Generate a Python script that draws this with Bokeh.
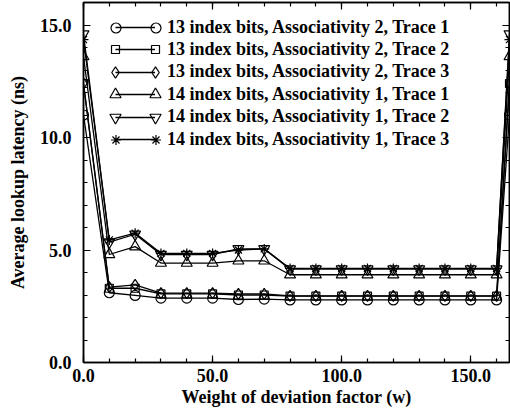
from bokeh.plotting import figure
from bokeh.models import (Range1d, LinearAxis, SingleIntervalTicker, PrintfTickFormatter,
                          Legend, LegendItem, CustomLabelingPolicy)
from bokeh.embed import file_html
from bokeh.resources import INLINE

# ---- data ----
weights = [0, 10, 20, 30, 40, 50, 60, 70, 80, 90, 100, 110, 120, 130, 140, 150, 160, 165]

idx13_assoc2_trace1 = [11.0, 3.10, 2.98, 2.86, 2.86, 2.86, 2.80, 2.82, 2.78, 2.78, 2.78, 2.78, 2.78, 2.78, 2.78, 2.78, 2.78, 11.0]
idx13_assoc2_trace2 = [12.4, 3.30, 3.30, 3.05, 3.05, 3.05, 3.00, 3.00, 2.95, 2.95, 2.95, 2.95, 2.95, 2.95, 2.95, 2.95, 2.95, 12.4]
idx13_assoc2_trace3 = [12.4, 3.35, 3.45, 3.08, 3.08, 3.08, 3.05, 3.05, 2.96, 2.96, 2.96, 2.96, 2.96, 2.96, 2.96, 2.96, 2.96, 12.4]
idx14_assoc1_trace1 = [13.6, 4.80, 5.15, 4.42, 4.42, 4.42, 4.52, 4.52, 3.90, 3.90, 3.90, 3.90, 3.90, 3.90, 3.90, 3.90, 3.90, 13.6]
idx14_assoc1_trace2 = [14.6, 5.35, 5.70, 4.80, 4.80, 4.80, 5.05, 5.05, 4.15, 4.15, 4.15, 4.15, 4.15, 4.15, 4.15, 4.15, 4.15, 14.6]
idx14_assoc1_trace3 = [14.35, 5.45, 5.75, 4.85, 4.85, 4.85, 5.00, 5.05, 4.18, 4.18, 4.18, 4.18, 4.18, 4.18, 4.18, 4.18, 4.18, 14.35]

labels = [
    "13 index bits, Associativity 2, Trace 1",
    "13 index bits, Associativity 2, Trace 2",
    "13 index bits, Associativity 2, Trace 3",
    "14 index bits, Associativity 1, Trace 1",
    "14 index bits, Associativity 1, Trace 2",
    "14 index bits, Associativity 1, Trace 3",
]
series = [idx13_assoc2_trace1, idx13_assoc2_trace2, idx13_assoc2_trace3,
          idx14_assoc1_trace1, idx14_assoc1_trace2, idx14_assoc1_trace3]
markers = ["circle", "square", "diamond", "triangle", "inverted_triangle", "asterisk"]
msizes = [10, 8, 11, 11, 11, 10]

x_title = "Weight of deviation factor (w)"
y_title = "Average lookup latency (ns)"

FONT = "Liberation Serif"
FRAME_H = 360

p = figure(frame_width=426, frame_height=FRAME_H, output_backend="svg", toolbar_location=None,
           x_range=Range1d(0, 165), y_range=Range1d(0, 16),
           min_border_left=83, min_border_right=1, min_border_top=2, min_border_bottom=50)
p.xgrid.visible = False
p.ygrid.visible = False
p.outline_line_color = "black"
p.outline_line_width = 1.5
p.background_fill_color = "white"
p.border_fill_color = "white"

xt = SingleIntervalTicker(interval=50, num_minor_ticks=5)
yt = SingleIntervalTicker(interval=5, num_minor_ticks=5)

no_labels = CustomLabelingPolicy(code="return new Set()")


def style_axis(ax, show_labels):
    ax.axis_line_color = "black"
    ax.axis_line_width = 1.5
    ax.major_tick_in = 7
    ax.major_tick_out = 0
    ax.minor_tick_in = 4
    ax.minor_tick_out = 0
    ax.major_tick_line_width = 1.2
    ax.minor_tick_line_width = 1.2
    ax.major_label_text_font = FONT
    ax.major_label_text_font_style = "bold"
    ax.major_label_text_color = "black"
    ax.axis_label_text_font = FONT
    ax.axis_label_text_font_style = "bold"
    ax.axis_label_text_color = "black"
    ax.axis_label_text_font_size = "18px"
    if show_labels:
        ax.major_label_text_font_size = "18px"
        ax.formatter = PrintfTickFormatter(format="%.1f")
    else:
        ax.major_label_policy = no_labels
        ax.major_label_text_font_size = "0px"
        ax.major_label_standoff = 0


p.xaxis.ticker = xt
p.yaxis.ticker = yt
style_axis(p.xaxis[0], True)
style_axis(p.yaxis[0], True)
p.xaxis.axis_label = x_title
p.yaxis.axis_label = y_title
p.xaxis.major_label_standoff = 6
p.xaxis.axis_label_standoff = 2
p.yaxis.major_label_standoff = 12
p.yaxis.axis_label_standoff = 9

top_ax = LinearAxis(ticker=xt)
style_axis(top_ax, False)
p.add_layout(top_ax, "above")
right_ax = LinearAxis(ticker=yt)
style_axis(right_ax, False)
p.add_layout(right_ax, "right")


def make_legend(item, loc, gw, gh, standoff):
    return Legend(items=[item], location=loc, orientation="vertical",
                  glyph_width=gw, glyph_height=gh, label_height=gh, spacing=0,
                  padding=0, margin=0, label_standoff=standoff,
                  label_text_font=FONT, label_text_font_style="bold",
                  label_text_font_size="18px", label_text_color="black",
                  label_text_baseline="middle",
                  border_line_alpha=0, background_fill_alpha=0)


# legend row geometry (screen px, measured from the top of the frame)
ROW0 = 25.0
PITCH = 22.4
LINE_X0 = 32      # legend sample line start, px right of frame left
LINE_W = 40       # legend sample line length
ROW_H = 22

for i, (lab, ys, mk, ms) in enumerate(zip(labels, series, markers, msizes)):
    rl = p.line(weights, ys, line_color="black", line_width=1.3)
    rm = p.scatter(weights, ys, marker=mk, size=ms, line_color="black", line_width=1.2,
                   fill_alpha=0)
    cy = FRAME_H - (ROW0 + PITCH * i)          # row centre, from frame bottom
    # sample line + label
    p.add_layout(make_legend(LegendItem(label=lab, renderers=[rl]),
                             (LINE_X0, cy - ROW_H / 2), LINE_W, ROW_H, 12))
    # markers at both ends of the sample line (legend marker size = 0.4 * box)
    box = int(round(ms / 0.4))
    for cx in (LINE_X0, LINE_X0 + LINE_W):
        p.add_layout(make_legend(LegendItem(label=" ", renderers=[rm]),
                                 (cx - box / 2, cy - box / 2), box, box, 0))

open("out.html", "w").write(file_html(p, INLINE))
